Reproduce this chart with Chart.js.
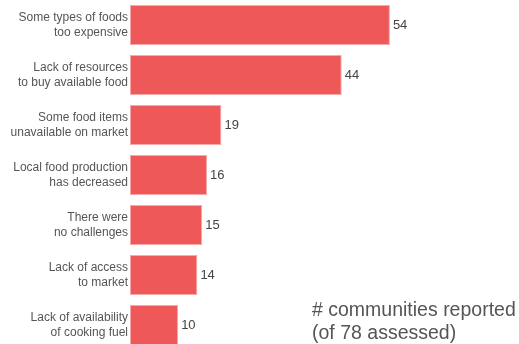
<!DOCTYPE html>
<html>
<head>
<meta charset="utf-8">
<script src="https://cdn.jsdelivr.net/npm/chart.js@4/dist/chart.umd.min.js"></script>
<style>
html,body{margin:0;padding:0;background:#fff;overflow:hidden;}
#wrap{width:519px;height:350px;position:relative;}
</style>
</head>
<body>
<div id="wrap"><canvas id="c" width="519" height="350"></canvas></div>
<script>
const categories = [
  ["Some types of foods", "too expensive"],
  ["Lack of resources", "to buy available food"],
  ["Some food items", "unavailable on market"],
  ["Local food production", "has decreased"],
  ["There were", "no challenges"],
  ["Lack of access", "to market"],
  ["Lack of availability", "of cooking fuel"]
];
const values = [54, 44, 19, 16, 15, 14, 10];
const axisTitle = ["# communities reported", "(of 78 assessed)"];

const valueLabels = {
  id: 'valueLabels',
  afterDatasetsDraw(chart) {
    const ctx = chart.ctx;
    const meta = chart.getDatasetMeta(0);
    ctx.save();
    ctx.font = '13px "Liberation Sans", Arial, sans-serif';
    ctx.fillStyle = '#444';
    ctx.textAlign = 'left';
    ctx.textBaseline = 'middle';
    meta.data.forEach((bar, i) => {
      ctx.fillText(String(values[i]), bar.x + 3, bar.y);
    });
    ctx.restore();
  }
};
const titlePlugin = {
  id: 'titlePlugin',
  afterDraw(chart) {
    const ctx = chart.ctx;
    ctx.save();
    ctx.font = '19.5px "Liberation Sans", Arial, sans-serif';
    ctx.fillStyle = '#555';
    ctx.textAlign = 'left';
    ctx.textBaseline = 'middle';
    ctx.fillText(axisTitle[0], 312, 311);
    ctx.fillText(axisTitle[1], 312, 334);
    ctx.restore();
  }
};

new Chart(document.getElementById('c'), {
  type: 'bar',
  data: {
    labels: categories,
    datasets: [{
      data: values,
      backgroundColor: '#EE5859',
      borderColor: '#F7A9A9',
      borderWidth: 1,
      borderSkipped: false,
      categoryPercentage: 1,
      barPercentage: 0.8
    }]
  },
  options: {
    indexAxis: 'y',
    responsive: false,
    animation: false,
    layout: { padding: { left: 0, right: 4, top: 0, bottom: 0 } },
    plugins: { legend: { display: false }, tooltip: { enabled: false } },
    scales: {
      x: { display: false, min: 0, max: 80, grid: { display: false } },
      y: {
        grid: { display: false, drawTicks: false },
        border: { display: false },
        ticks: {
          color: '#555',
          padding: 2,
          font: { family: '"Liberation Sans", Arial, sans-serif', size: 12, lineHeight: 1.3 }
        },
        afterFit(scale) { scale.width = 130; scale.paddingTop = 0; scale.paddingBottom = 0; }
      }
    }
  },
  plugins: [valueLabels, titlePlugin]
});
</script>
</body>
</html>
